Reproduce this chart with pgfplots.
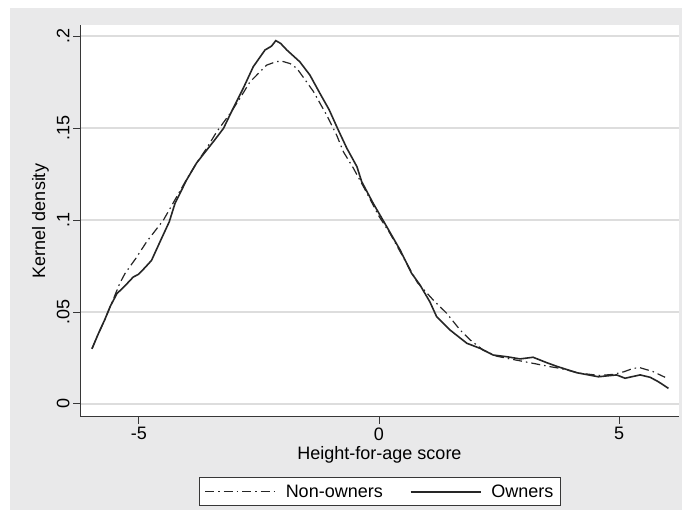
\documentclass[border=0pt]{standalone}
\usepackage{fontspec}
\setmainfont{Liberation Sans}
\usepackage{pgfplots}
\pgfplotsset{compat=1.18}
\definecolor{bggray}{RGB}{233,233,234}
\definecolor{gridgray}{RGB}{221,221,221}
\definecolor{axgray}{RGB}{55,55,55}

\begin{document}
\begin{tikzpicture}[font=\fontsize{18}{21.6}\selectfont]
\fill[white] (0,0) rectangle (682pt,516pt);
\fill[bggray] (10pt,6pt) rectangle (682pt,508pt);
\begin{axis}[
  at={(80pt,99pt)}, anchor=south west,
  scale only axis, width=599pt, height=392pt,
  xmin=-6.229, xmax=6.25, ymin=-0.00707, ymax=0.206,
  axis background/.style={fill=white},
  axis x line*=bottom, axis y line*=left,
  axis line style={axgray, line width=1pt, -},
  xtick={-5,0,5}, xticklabels={-5,0,5},
  ytick={0,0.05,0.1,0.15,0.2}, yticklabels={0,.05,.1,.15,.2},
  tick align=outside, major tick length=7pt,
  tick style={axgray, line width=1pt},
  yticklabel style={rotate=90, anchor=south},
  ymajorgrids, grid style={gridgray, line width=1.5pt},
  xlabel={Height-for-age score}, ylabel={Kernel density},
  xlabel style={at={(axis description cs:0.5,-0.1097)}, anchor=base},
  ylabel style={at={(axis description cs:-0.0584,0.5)}, anchor=base},
  legend columns=2,
  legend image code/.code={\draw[#1] (0pt,0pt) -- (70pt,0pt);},
  legend style={at={(axis description cs:0.5008,-0.191)}, anchor=center,
    draw=axgray, fill=white, line width=1pt, inner xsep=5pt, inner ysep=5pt,
    /tikz/every odd column/.append style={column sep=8pt},
    /tikz/every even column/.append style={column sep=25pt}},
]
\addplot[black!85, line width=1.2pt, dash pattern=on 9pt off 4pt on 1.5pt off 4pt] coordinates {
(-5.98,0.030) (-5.85,0.038) (-5.71,0.046) (-5.55,0.056) (-5.40,0.0656)
(-5.29,0.071) (-5.07,0.079) (-4.84,0.0882) (-4.49,0.100) (-4.25,0.111)
(-4.01,0.122) (-3.80,0.131) (-3.59,0.139) (-3.38,0.148) (-3.10,0.158)
(-2.90,0.166) (-2.69,0.175) (-2.50,0.180) (-2.34,0.1842) (-2.15,0.186)
(-2.03,0.1864) (-1.85,0.185) (-1.71,0.1824) (-1.37,0.170) (-1.09,0.157)
(-0.88,0.146) (-0.74,0.137) (-0.53,0.128) (-0.30,0.117) (0.00,0.102)
(0.23,0.0927) (0.50,0.080) (0.80,0.066) (1.13,0.0565) (1.41,0.0493)
(1.69,0.0402) (1.90,0.0348) (2.17,0.0293) (2.45,0.026) (2.73,0.0245)
(3.21,0.0221) (3.56,0.0203) (3.77,0.0194) (4.19,0.0167) (4.60,0.0155)
(4.88,0.0161) (5.10,0.0175) (5.30,0.0194) (5.44,0.0197) (5.71,0.0176)
(5.96,0.0145)
};
\addlegendentry{Non-owners}
\addplot[black!85, line width=1.6pt] coordinates {
(-5.98,0.030) (-5.85,0.038) (-5.71,0.046) (-5.60,0.053) (-5.46,0.060)
(-5.30,0.064) (-5.12,0.069) (-5.01,0.0705) (-4.88,0.074) (-4.74,0.078)
(-4.53,0.090) (-4.37,0.099) (-4.25,0.109) (-4.01,0.1217) (-3.80,0.131)
(-3.59,0.138) (-3.45,0.1426) (-3.24,0.1498) (-3.07,0.159) (-2.83,0.1715)
(-2.62,0.1833) (-2.375,0.1924) (-2.24,0.1945) (-2.15,0.1975) (-2.05,0.196)
(-1.92,0.1924) (-1.65,0.186) (-1.44,0.1788) (-1.23,0.1688) (-1.04,0.160)
(-0.85,0.149) (-0.67,0.139) (-0.46,0.129) (-0.36,0.1208) (-0.12,0.109)
(0.125,0.098) (0.44,0.0837) (0.68,0.071) (0.854,0.0647) (1.06,0.0555)
(1.20,0.0475) (1.48,0.0402) (1.83,0.033) (2.10,0.0303) (2.38,0.0266)
(2.66,0.0257) (2.94,0.0245) (3.21,0.0254) (3.49,0.0225) (3.70,0.0205)
(4.12,0.017) (4.57,0.0148) (4.95,0.0158) (5.125,0.014) (5.44,0.0158)
(5.65,0.0145) (5.82,0.0121) (6.03,0.0085)
};
\addlegendentry{Owners}
\end{axis}
\pgfresetboundingbox
\path (0,0) rectangle (682pt,516pt);
\end{tikzpicture}
\end{document}
